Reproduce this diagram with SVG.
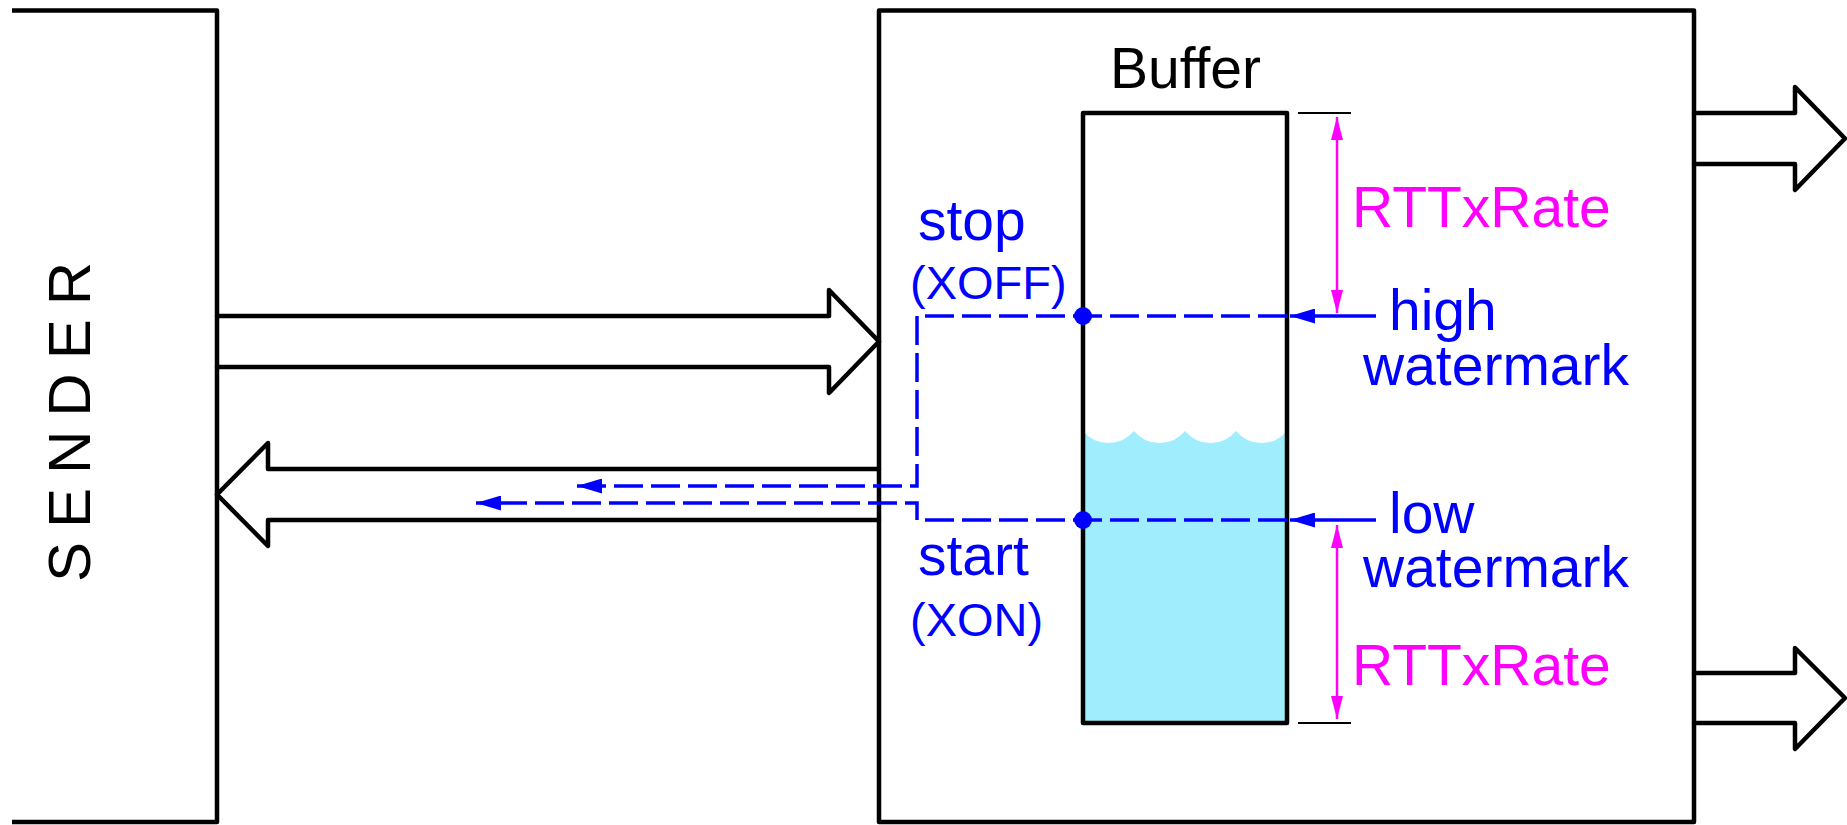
<svg xmlns="http://www.w3.org/2000/svg" width="1847" height="825" viewBox="0 0 1847 825">
  <style>
    .box { fill: none; stroke: #000; stroke-width: 4.5; stroke-linejoin: round; }
    .pipe { fill: none; stroke: #000; stroke-width: 4.5; stroke-linejoin: round; stroke-linecap: round; }
    .tick { fill: none; stroke: #000; stroke-width: 2; }
    .ctl { fill: none; stroke: #0000ff; stroke-width: 3.5; }
    .dash { stroke-dasharray: 29 8; }
    .dim { fill: none; stroke: #ff00ff; stroke-width: 2.5; }
    .t { font-family: "Liberation Sans", Arial, sans-serif; }
    .big { font-size: 57px; }
    .small { font-size: 47px; }
    .blk { fill: #000; }
    .blu { fill: #0000ff; }
    .mag { fill: #ff00ff; }
  </style>
  <defs>
    <marker id="blueHead" markerUnits="userSpaceOnUse" markerWidth="25" markerHeight="15" viewBox="0 0 25 15" refX="25" refY="7.5" orient="auto">
      <path d="M0,0 L25,7.5 L0,15 Z" fill="#0000ff"/>
    </marker>
    <marker id="magHead" markerUnits="userSpaceOnUse" markerWidth="23" markerHeight="12" viewBox="0 0 23 12" refX="23" refY="6" orient="auto-start-reverse">
      <path d="M0,0 L23,6 L0,12 Z" fill="#ff00ff"/>
    </marker>
  </defs>

  <rect width="1847" height="825" fill="#fff"/>

  <!-- sending side -->
  <g id="sender">
    <path class="box" d="M12,10.5 H217 V822 H12"/>
    <text class="t blk" font-size="60" letter-spacing="14" transform="translate(90,582) rotate(-90)">SENDER</text>
  </g>

  <!-- receiving side -->
  <g id="receiver">
    <rect class="box" x="879" y="10.5" width="815" height="811.5"/>
  </g>

  <!-- buffer with its fill level -->
  <g id="buffer">
    <path d="M1083,431 A33,33 0 0 0 1134,431 A33,33 0 0 0 1185,431 A33,33 0 0 0 1236,431 A33,33 0 0 0 1287,431 V723 H1083 Z" fill="#a0eefd"/>
    <rect class="box" x="1083" y="113" width="204" height="610"/>
    <text class="t big blk" x="1110" y="88">Buffer</text>
  </g>

  <g id="stop-label">
    <text class="t big blu" x="918" y="240">stop</text>
    <text class="t small blu" x="910" y="299">(XOFF)</text>
  </g>

  <g id="start-label">
    <text class="t big blu" x="918" y="575">start</text>
    <text class="t small blu" x="910" y="636">(XON)</text>
  </g>

  <g id="high-watermark">
    <text class="t big blu" x="1389" y="330">high</text>
    <text class="t big blu" x="1363" y="385">watermark</text>
  </g>

  <g id="low-watermark">
    <text class="t big blu" x="1389" y="533">low</text>
    <text class="t big blu" x="1363" y="587">watermark</text>
  </g>

  <g id="rtt-upper">
    <path class="tick" d="M1298,113 H1351"/>
    <path class="dim" d="M1337,117 V313" marker-start="url(#magHead)" marker-end="url(#magHead)"/>
    <text class="t big mag" x="1352" y="227">RTTxRate</text>
  </g>

  <g id="rtt-lower">
    <path class="tick" d="M1298,723 H1351"/>
    <path class="dim" d="M1337,525 V719" marker-start="url(#magHead)" marker-end="url(#magHead)"/>
    <text class="t big mag" x="1352" y="685">RTTxRate</text>
  </g>

  <g id="connectors">
    <!-- data path sender to receiver -->
    <path class="pipe" d="M217,316 H829 V290 L879,341.5 L829,393 V367 H217"/>
    <!-- return path receiver to sender -->
    <path class="pipe" d="M879,469 H268 V443 L217,494.5 L268,546 V520 H879"/>
    <!-- outgoing data -->
    <path class="pipe" d="M1694,113 H1795 V87 L1845,138.5 L1795,190 V164 H1694"/>
    <path class="pipe" d="M1694,673 H1795 V648 L1845,698 L1795,749 V723 H1694"/>

    <!-- flow control signals -->
    <path class="ctl dash" d="M1287,316 H917 V486 H577" marker-end="url(#blueHead)"/>
    <path class="ctl dash" d="M1287,520 H917 V503 H476" marker-end="url(#blueHead)"/>
    <path class="ctl" d="M1376,316 H1290" marker-end="url(#blueHead)"/>
    <path class="ctl" d="M1376,520 H1290" marker-end="url(#blueHead)"/>
    <circle cx="1083" cy="316" r="9" fill="#0000ff"/>
    <circle cx="1083" cy="520" r="9" fill="#0000ff"/>
  </g>
</svg>
